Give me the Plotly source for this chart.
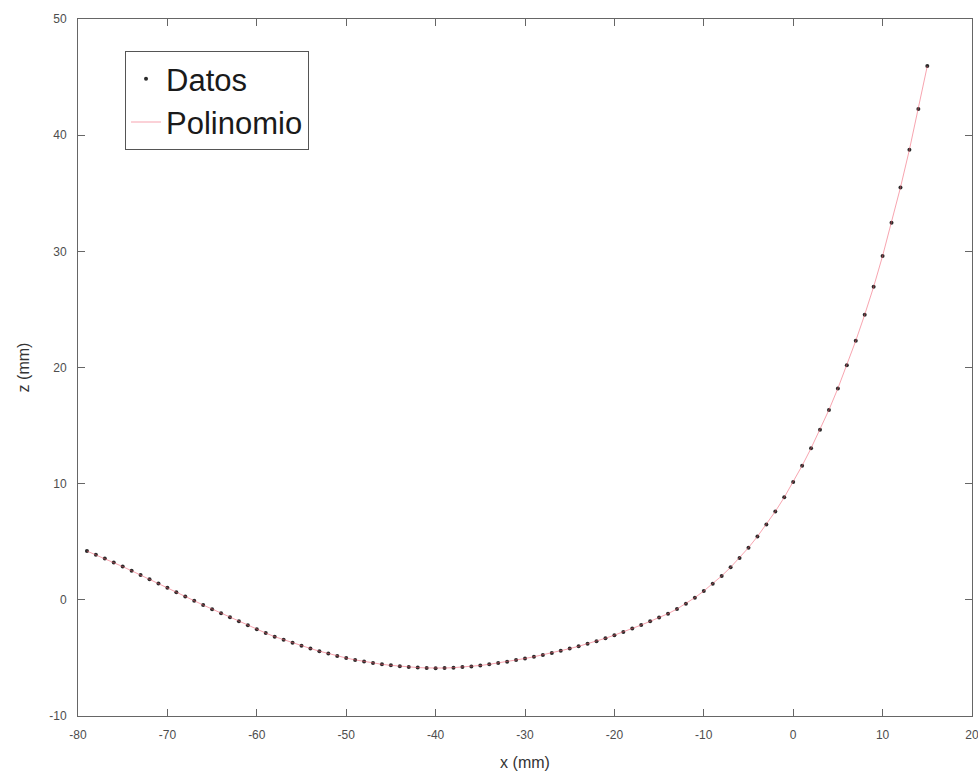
import plotly.graph_objects as go

# Measured profile: horizontal position x (mm) and height z (mm)
x_mm = [
    -79, -78, -77, -76, -75, -74, -73, -72, -71, -70,
    -69, -68, -67, -66, -65, -64, -63, -62, -61, -60,
    -59, -58, -57, -56, -55, -54, -53, -52, -51, -50,
    -49, -48, -47, -46, -45, -44, -43, -42, -41, -40,
    -39, -38, -37, -36, -35, -34, -33, -32, -31, -30,
    -29, -28, -27, -26, -25, -24, -23, -22, -21, -20,
    -19, -18, -17, -16, -15, -14, -13, -12, -11, -10,
    -9, -8, -7, -6, -5, -4, -3, -2, -1, 0,
    1, 2, 3, 4, 5, 6, 7, 8, 9, 10,
    11, 12, 13, 14, 15,
]
z_mm = [
    4.20, 3.88, 3.55, 3.21, 2.86, 2.50, 2.14, 1.77, 1.40, 1.03,
    0.66, 0.29, -0.08, -0.45, -0.80, -1.15, -1.50, -1.85, -2.19, -2.53,
    -2.86, -3.17, -3.44, -3.70, -3.95, -4.19, -4.42, -4.63, -4.83, -5.01,
    -5.17, -5.31, -5.44, -5.55, -5.64, -5.72, -5.78, -5.83, -5.86, -5.88,
    -5.87, -5.84, -5.79, -5.73, -5.65, -5.55, -5.44, -5.32, -5.19, -5.05,
    -4.90, -4.74, -4.57, -4.39, -4.20, -4.00, -3.79, -3.56, -3.31, -3.04,
    -2.76, -2.47, -2.17, -1.85, -1.53, -1.19, -0.79, -0.33, 0.19, 0.76,
    1.38, 2.06, 2.80, 3.61, 4.49, 5.45, 6.49, 7.61, 8.82, 10.15,
    11.55, 13.05, 14.65, 16.35, 18.20, 20.20, 22.30, 24.55, 26.95, 29.60,
    32.45, 35.50, 38.75, 42.25, 45.95,
]

x_range = [-80, 20.001]
z_range = [-10, 50]
x_ticks = [-80, -70, -60, -50, -40, -30, -20, -10, 0, 10, 20]
z_ticks = [-10, 0, 10, 20, 30, 40, 50]
x_tick_text = ["-80", "-70", "-60", "-50", "-40", "-30", "-20", "-10", "0", "10", "20"]
z_tick_text = ["-10", "0", "10", "20", "30", "40", "50"]

FONT = "Liberation Sans, Arial, Helvetica, sans-serif"
AXIS_COLOR = "#666666"
TICK_COLOR = "#4d4d4d"

fig = go.Figure()

fig.add_trace(go.Scatter(
    x=x_mm, y=z_mm, mode="markers", name="Datos",
    marker=dict(color="#2b2b2b", size=4),
))
fig.add_trace(go.Scatter(
    x=x_mm, y=z_mm, mode="lines", name="Polinomio",
    line=dict(color="rgba(240,90,110,0.55)", width=1),
))

axis_common = dict(
    showline=True, linecolor=AXIS_COLOR, linewidth=1, mirror="ticks",
    ticks="inside", ticklen=7, tickcolor=AXIS_COLOR, tickwidth=1,
    showgrid=False, zeroline=False, ticklabelstandoff=8,
    ticklabeloverflow="allow", automargin=False,
    tickfont=dict(family=FONT, size=12, color=TICK_COLOR),
)

fig.update_xaxes(
    range=x_range, tickvals=x_ticks, ticktext=x_tick_text,
    title=dict(text="x (mm)", font=dict(family=FONT, size=16, color="#333333"), standoff=15),
    **axis_common,
)
fig.update_yaxes(
    range=z_range, tickvals=z_ticks, ticktext=z_tick_text,
    title=dict(text="z (mm)", font=dict(family=FONT, size=16, color="#333333"), standoff=15),
    **axis_common,
)

fig.update_layout(
    width=978, height=775,
    margin=dict(l=78, r=6, t=19, b=59, autoexpand=False),
    paper_bgcolor="white", plot_bgcolor="white",
    font=dict(family=FONT),
    legend=dict(
        x=0.0526, y=0.954, xanchor="left", yanchor="top",
        bgcolor="white", bordercolor="#555555", borderwidth=1,
        font=dict(family=FONT, size=31, color="#1a1a1a"),
        itemwidth=30, tracegroupgap=0,
    ),
    showlegend=True,
)

fig.write_html("out.html")
